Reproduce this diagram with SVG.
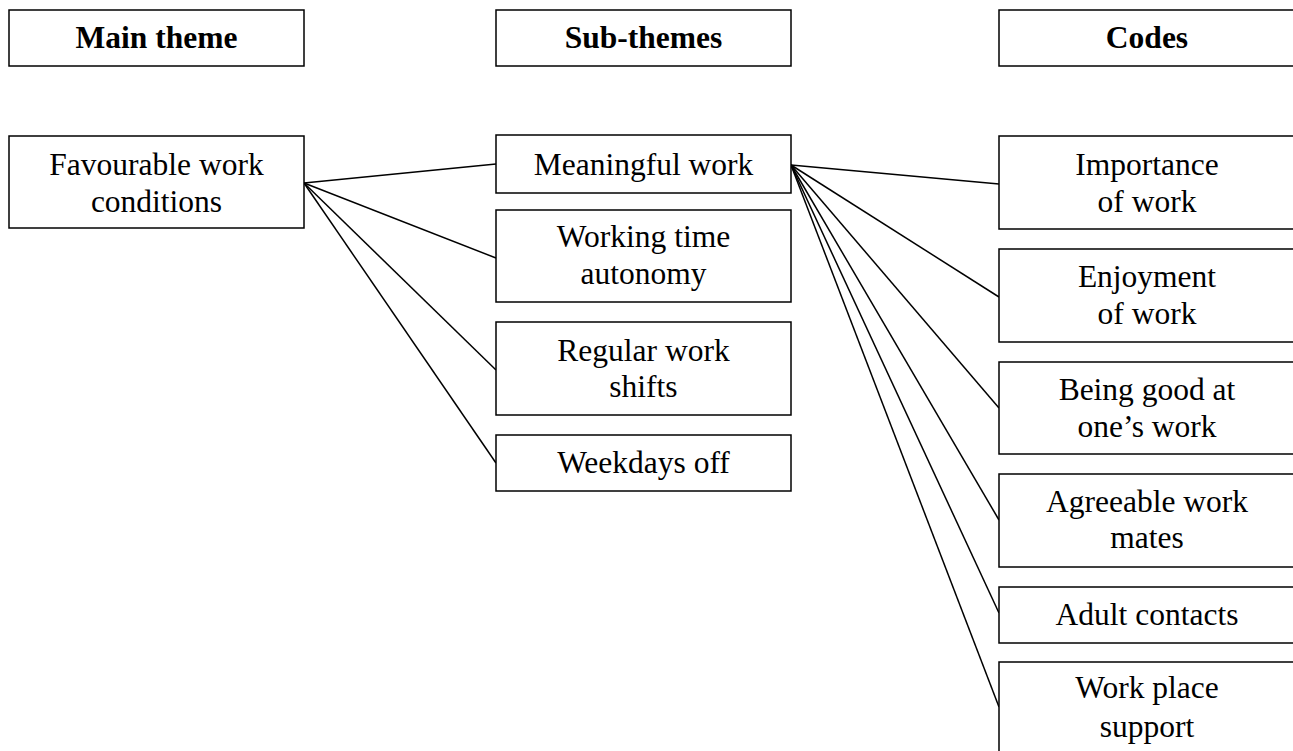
<svg xmlns="http://www.w3.org/2000/svg" width="1293" height="751" viewBox="0 0 1293 751">
<style>
rect{fill:#fff;stroke:#000;stroke-width:1.5}
text{font-family:"Liberation Serif","Times New Roman",serif;font-size:31.5px;fill:#000;text-anchor:middle}
.h{font-weight:bold}
#connectors line{stroke:#000;stroke-width:1.5}
</style>
<rect width="1293" height="751" style="stroke:none"/>
<g id="connectors">
<line x1="304" y1="183" x2="496" y2="164"/>
<line x1="304" y1="183" x2="496" y2="258"/>
<line x1="304" y1="183" x2="496" y2="370"/>
<line x1="304" y1="183" x2="496" y2="463"/>
<line x1="791" y1="165" x2="999" y2="184"/>
<line x1="791" y1="165" x2="999" y2="297"/>
<line x1="791" y1="165" x2="999" y2="408"/>
<line x1="791" y1="165" x2="999" y2="520"/>
<line x1="791" y1="165" x2="999" y2="613"/>
<line x1="791" y1="165" x2="999" y2="707"/>
</g>
<g id="h-main"><rect x="9" y="10" width="295" height="56"/><text class="h" x="156.5" y="48">Main theme</text></g>
<g id="h-sub"><rect x="496" y="10" width="295" height="56"/><text class="h" x="643.5" y="48">Sub-themes</text></g>
<g id="h-codes"><rect x="999" y="10" width="296" height="56"/><text class="h" x="1147" y="48">Codes</text></g>
<g id="main"><rect x="9" y="136" width="295" height="92"/><text x="156.5" y="175">Favourable work</text><text x="156.5" y="212">conditions</text></g>
<g id="sub1"><rect x="496" y="135" width="295" height="58"/><text x="643.5" y="175">Meaningful work</text></g>
<g id="sub2"><rect x="496" y="210" width="295" height="92"/><text x="643.5" y="247">Working time</text><text x="643.5" y="284">autonomy</text></g>
<g id="sub3"><rect x="496" y="322" width="295" height="93"/><text x="643.5" y="361">Regular work</text><text x="643.5" y="397">shifts</text></g>
<g id="sub4"><rect x="496" y="435" width="295" height="56"/><text x="643.5" y="473">Weekdays off</text></g>
<g id="c1"><rect x="999" y="136" width="296" height="93"/><text x="1147" y="175">Importance</text><text x="1147" y="212">of work</text></g>
<g id="c2"><rect x="999" y="249" width="296" height="93"/><text x="1147" y="287">Enjoyment</text><text x="1147" y="324">of work</text></g>
<g id="c3"><rect x="999" y="362" width="296" height="92"/><text x="1147" y="400">Being good at</text><text x="1147" y="437">one’s work</text></g>
<g id="c4"><rect x="999" y="474" width="296" height="93"/><text x="1147" y="512">Agreeable work</text><text x="1147" y="548">mates</text></g>
<g id="c5"><rect x="999" y="587" width="296" height="56"/><text x="1147" y="625">Adult contacts</text></g>
<g id="c6"><rect x="999" y="662" width="296" height="100"/><text x="1147" y="698">Work place</text><text x="1147" y="737">support</text></g>
</svg>
